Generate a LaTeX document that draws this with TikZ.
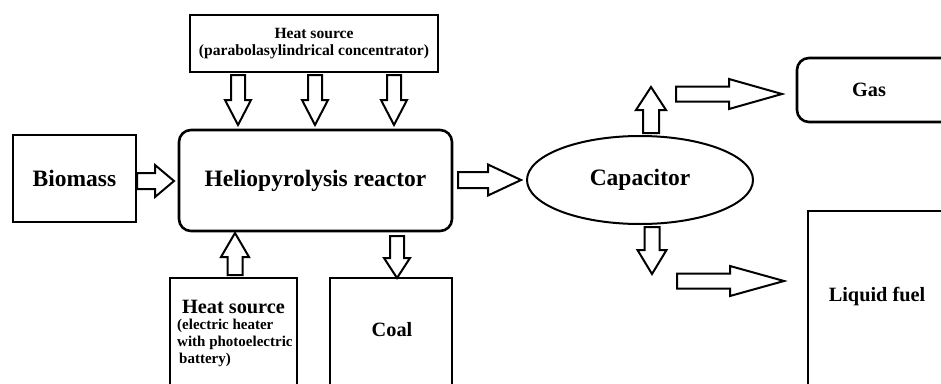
\documentclass[tikz,border=0pt]{standalone}
\usepackage{fontspec}
\setmainfont{Liberation Serif}
\usetikzlibrary{shapes.geometric}
\newcommand\bkarrow[6]{% #1 tail, #2 angle, #3 length, #4 shaft half, #5 head half, #6 head length
  \begin{scope}[shift={(#1)}, rotate=#2]
    \draw[barrow] (0,#4) -- ({#3-#6},#4) -- ({#3-#6},#5) -- (#3,0) -- ({#3-#6},-#5) -- ({#3-#6},-#4) -- (0,-#4) -- cycle;
  \end{scope}}
\begin{document}
\begin{tikzpicture}[x=1pt,y=-1pt,
  box/.style={draw, line width=2.6pt, inner sep=0pt, font=\bfseries},
  rbox/.style={box, rounded corners=12pt},
  barrow/.style={draw, line width=2pt, fill=white, line join=miter},
  big/.style={font=\fontsize{23.5}{26}\selectfont\bfseries},
  mid/.style={font=\fontsize{20.3}{23}\selectfont\bfseries},
  small/.style={font=\fontsize{15.6}{17}\selectfont\bfseries},
]
\useasboundingbox (0,0) rectangle (941,383);
\clip (0,0) rectangle (941,383);
\fill[white] (0,0) rectangle (941,383);

% top heat source
\node[box, minimum width=248pt, minimum height=57pt, align=center, small] (hs1) at (314,43.5)
  {Heat source\\(parabolasylindrical concentrator)};
% biomass
\node[box, minimum width=123pt, minimum height=87pt, big] (bio) at (74.5,178.5) {Biomass};
% reactor
\node[rbox, minimum width=273pt, minimum height=101pt, big] (reac) at (315.5,180.5) {Heliopyrolysis reactor};
% capacitor
\node[draw, ellipse, line width=2pt, inner sep=0pt, minimum width=226pt, minimum height=88pt, big] (cap) at (640,180) {Capacitor};
% gas
\node[rbox, minimum width=180pt, minimum height=64pt] (gas) at (887,90) {};
\node[mid, inner sep=0pt] (gast) at (869,90) {Gas};
% liquid fuel
\node[box, minimum width=170pt, minimum height=190pt] (liq) at (893,306) {};
\node[mid, inner sep=0pt] (liqt) at (877,297) {Liquid fuel};
% bottom heat source
\node[box, minimum width=127pt, minimum height=130pt] (hs2) at (233.5,343) {};
\node[mid, inner sep=0pt] (hs2t) at (233.5,307) {Heat source};
\node[inner sep=0pt, anchor=north west, align=left, font=\fontsize{15}{17}\selectfont\bfseries] (hs2d) at (177,319)
  {(electric heater\\with photoelectric\\\hspace*{2pt}battery)};
% coal
\node[box, minimum width=122pt, minimum height=130pt] (coal) at (391,343) {};
\node[mid, inner sep=0pt] (coalt) at (392,330) {Coal};

% arrow tails
\coordinate (t1) at (238,75);
\coordinate (t2) at (315,75);
\coordinate (t3) at (394,75);
\coordinate (tb) at (137,181);
\coordinate (tr) at (458,180);
\coordinate (tcu) at (651,133);
\coordinate (tg) at (676,94);
\coordinate (tcd) at (652,227);
\coordinate (tl) at (677,281);
\coordinate (th) at (235,275);
\coordinate (tc) at (397,236);

\bkarrow{t1}{-90}{50}{7}{13}{25}
\bkarrow{t2}{-90}{50}{7}{13}{25}
\bkarrow{t3}{-90}{50}{7}{13}{25}
\bkarrow{tb}{0}{37}{8}{16}{19}
\bkarrow{tr}{0}{63}{8}{15.5}{33}
\bkarrow{tcu}{90}{46}{8}{15}{23}
\bkarrow{tg}{0}{106}{7.5}{15}{53}
\bkarrow{tcd}{-90}{47}{7.5}{14.5}{24}
\bkarrow{tl}{0}{107}{7.5}{15}{54}
\bkarrow{th}{90}{42}{7.5}{14}{24}
\bkarrow{tc}{-90}{42}{7}{13}{20}
\end{tikzpicture}
\end{document}
